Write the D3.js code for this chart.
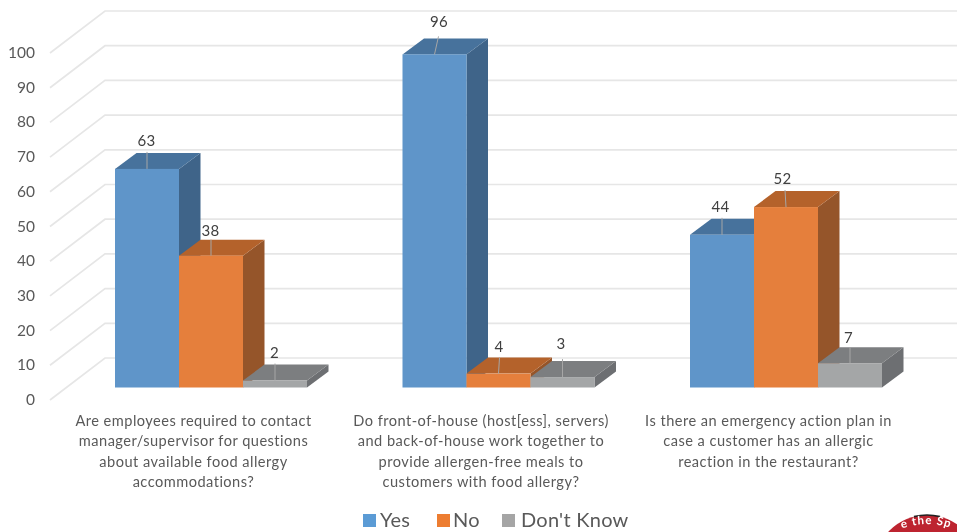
<!DOCTYPE html>
<html><head><meta charset="utf-8">
<script src="https://cdn.jsdelivr.net/npm/d3@7/dist/d3.min.js"></script>
<style>html,body{margin:0;padding:0;background:#fff}svg{display:block;filter:blur(0.35px)}text{font-family:Lato,"Open Sans",sans-serif}</style>
</head><body><svg id="c" width="957" height="532"></svg>
<script>
const categories = [
  ["Are employees required to contact","manager/supervisor for questions","about available food allergy","accommodations?"],
  ["Do front-of-house (host[ess], servers)","and back-of-house work together to","provide allergen-free meals to","customers with food allergy?"],
  ["Is there an emergency action plan in","case a customer has an allergic","reaction in the restaurant?"]
];
const seriesNames = ["Yes","No","Don't Know"];
const yes = [63,96,44];
const no = [38,4,52];
const dontKnow = [2,3,7];
const yTicks = [0,10,20,30,40,50,60,70,80,90,100];
const frontColors = ["#5f95c9","#e57f3c","#a4a6a7"];
const topColors = ["#47729c","#b4622b","#7c7e80"];
const sideColors = ["#3f6489","#95552a","#6d6f72"];
const legendColors = ["#5b9bd5","#ed7d31","#a5a5a5"];
const series = [yes,no,dontKnow];
// hand-placed data-label shifts [dx, dy, leader-top dx], per series then category
const labelNudge = [
  [[0,-1,0],[5,-5,4],[-1,-1,0]],
  [[0,2,0],[1,0,1],[-3,-1,-1]],
  [[0,-1,0],[-1,-6,0],[-1,2,0]]
];

const svg = d3.select("#c");
const y = d3.scaleLinear().domain([0,100]).range([400,53]);
const cat = d3.scaleBand().domain(d3.range(categories.length)).range([67.25,929.75]);
const wallDx = 55, wallDy = -42;
const depthDx = 21.5, depthDy = -16;
const baseShift = -12.5;
const barSpan = 192;
const inner = d3.scaleBand().domain(d3.range(series.length)).range([0,barSpan]);
const catLeft = i => cat(i)+cat.bandwidth()/2-barSpan/2;
const line = d3.line();

const grid = svg.append("g");
yTicks.forEach(t=>{
  grid.append("path").attr("d",line([[50,y(t)],[50+wallDx,y(t)+wallDy],[957,y(t)+wallDy]]))
    .attr("fill","none").attr("stroke","#e6e6e6").attr("stroke-width",1.7);
});

svg.append("g").selectAll("text").data(yTicks).join("text")
  .attr("x",35).attr("y",d=>y(d)+5).attr("text-anchor","end")
  .attr("font-size",15.5).attr("fill","#595959").text(d=>d);

categories.forEach((lines,c)=>{
  const g = svg.append("g");
  series.forEach((s,k)=>{
    const v = s[c];
    const x0 = catLeft(c)+inner(k), w = inner.bandwidth();
    const yb = y(0)+baseShift, yt = y(v)+baseShift;
    g.append("path").attr("d",line([[x0+w,yb],[x0+w+depthDx,yb+depthDy],[x0+w+depthDx,yt+depthDy],[x0+w,yt]])+"Z").attr("fill",sideColors[k]);
    g.append("path").attr("d",line([[x0,yt],[x0+depthDx,yt+depthDy],[x0+w+depthDx,yt+depthDy],[x0+w,yt]])+"Z").attr("fill",topColors[k]);
    g.append("rect").attr("x",x0).attr("y",yt).attr("width",w).attr("height",yb-yt).attr("fill",frontColors[k]);
  });
  series.forEach((s,k)=>{
    const v = s[c];
    const n = labelNudge[k][c];
    const cx = catLeft(c)+inner(k)+inner.bandwidth()/2;
    const yt = y(v)+baseShift;
    g.append("line").attr("x1",cx).attr("x2",cx+n[2]).attr("y1",yt).attr("y2",yt+depthDy+Math.max(Math.min(n[1],0),-2))
      .attr("stroke","#a6a6a6").attr("stroke-width",1);
    g.append("text").attr("x",cx-0.5+n[0]).attr("y",yt+depthDy-6+n[1]).attr("text-anchor","middle")
      .attr("font-size",15).attr("letter-spacing",0.3).attr("fill","#404040").text(v);
  });
  const cx = cat(c)+cat.bandwidth()/2-17.5;
  g.append("g").selectAll("text").data(lines).join("text")
    .attr("x",cx).attr("y",(d,i)=>426+i*20.3).attr("text-anchor","middle")
    .attr("font-size",14.6).attr("letter-spacing",0.47).attr("fill","#595959").text(d=>d);
});

const legendX = [363,437,502], legendTextX=[380,453,521];
const lg = svg.append("g");
seriesNames.forEach((n,i)=>{
  lg.append("rect").attr("x",legendX[i]).attr("y",514).attr("width",13).attr("height",13).attr("fill",legendColors[i]);
  lg.append("text").attr("x",legendTextX[i]).attr("y",527).attr("font-size",20).attr("letter-spacing",0.25).attr("fill","#595959").text(n);
});

// seal in the corner
svg.append("circle").attr("cx",927).attr("cy",568).attr("r",53).attr("fill","#bd2430");
svg.append("path").attr("fill","none").attr("stroke","#222").attr("stroke-width",1.6)
  .attr("d","M 914 516.6 A 53 53 0 0 1 940 516.6");
svg.append("path").attr("id","arc").attr("fill","none").attr("d","M 857 594 A 70 70 0 0 1 997 594");
svg.append("text").attr("font-size",11.5).attr("font-weight",700).attr("letter-spacing",1).attr("fill","#fff")
  .append("textPath").attr("href","#arc").attr("startOffset","38.4%").text("e the Sp");
</script></body></html>
